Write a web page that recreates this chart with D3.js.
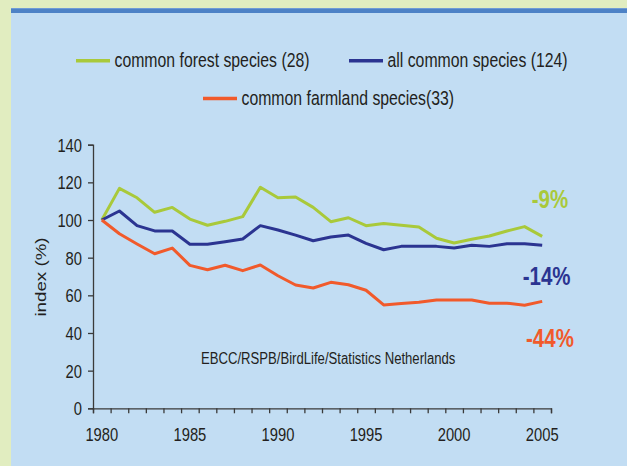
<!DOCTYPE html>
<html>
<head>
<meta charset="utf-8">
<script src="https://cdn.jsdelivr.net/npm/d3@7"></script>
<style>
  body { margin: 0; background: #c2ddf3; }
  svg { display: block; }
  text { font-family: "Liberation Sans", Arial, sans-serif; fill: #231f20; }
</style>
</head>
<body>
<svg id="chart"></svg>
<script>

// Data: index (1980 = 100)
const years = [1980, 1981, 1982, 1983, 1984, 1985, 1986, 1987, 1988, 1989, 1990, 1991, 1992,
               1993, 1994, 1995, 1996, 1997, 1998, 1999, 2000, 2001, 2002, 2003, 2004, 2005];
const forest = [100, 116.8, 111.8, 104.1, 106.7, 100.5, 97.2, 99.3, 101.8, 117.4, 111.8, 112.2, 106.7,
                99.1, 101.2, 97.0, 98.2, 97.2, 96.3, 90.3, 87.8, 89.8, 91.5, 94.2, 96.5, 91.3];
const allCommon = [100, 104.8, 97.0, 94.2, 94.2, 87.1, 87.1, 88.5, 89.9, 97.0, 94.7, 92.0, 89.0,
                   91.0, 92.0, 87.6, 84.2, 86.0, 86.0, 86.0, 85.1, 86.6, 86.0, 87.4, 87.4, 86.6];
const farmland = [100, 92.7, 87.3, 82.1, 85.1, 75.9, 73.6, 76.0, 73.1, 76.1, 70.4, 65.5, 63.9,
                  66.9, 65.6, 62.7, 54.9, 55.6, 56.3, 57.5, 57.5, 57.5, 55.8, 55.8, 54.7, 56.8];

const seriesNames = ["common forest species (28)", "all common species (124)", "common farmland species(33)"];
const changeLabels = ["-9%", "-14%", "-44%"];
const yTicks = [0, 20, 40, 60, 80, 100, 120, 140];
const xLabelYears = [1980, 1985, 1990, 1995, 2000, 2005];
const sourceText = "EBCC/RSPB/BirdLife/Statistics Netherlands";

const colors = ["#a9c93a", "#2b3491", "#f15a2b"];
const seriesData = [forest, allCommon, farmland];

const W = 627, H = 466;
const SX = 0.82; // the original lettering is narrow
const svg = d3.select("#chart").attr("width", W).attr("height", H);

// move x/y of each text into a translate and squeeze it horizontally
function squeeze(sel) {
    sel.each(function() {
        const t = d3.select(this);
        const tx = +t.attr("x") || 0, ty = +t.attr("y") || 0;
        t.attr("x", null).attr("y", null)
         .attr("transform", `translate(${tx},${ty}) scale(${SX},1)`);
    });
}

// frame
svg.append("rect").attr("x", 0).attr("y", 0).attr("width", W).attr("height", H).attr("fill", "#e1edc0");
svg.append("rect").attr("x", 11).attr("y", 8).attr("width", W - 11).attr("height", H - 8).attr("fill", "#c2ddf3");
svg.append("rect").attr("x", 11).attr("y", 8).attr("width", W - 11).attr("height", 5).attr("fill", "#4d82c6");
svg.append("rect").attr("x", 11).attr("y", 8).attr("width", W - 11).attr("height", 1).attr("fill", "#6f9bd6");

// scales
const x = d3.scaleBand().domain(years).range([93, 551]);
const xb = d3.scaleLinear().domain([0, years.length]).range([93, 551]);
const y = d3.scaleLinear().domain([0, 140]).range([408.3, 144.7]);
const cx = d => x(d) + x.bandwidth() / 2;

// axes
const axisColor = "#3a3a3a";
const yAxis = svg.append("g")
    .attr("transform", "translate(93,0)")
    .call(d3.axisLeft(y).tickValues(yTicks).tickSize(5).tickPadding(6));
yAxis.selectAll("text").attr("font-size", 18).attr("dy", "0.36em").style("fill", "#231f20").call(squeeze);

svg.append("g")
    .attr("transform", "translate(0,408.3)")
    .call(d3.axisBottom(xb).tickValues(d3.range(years.length + 1)).tickSize(5).tickFormat(""));

const xLabels = svg.append("g")
    .attr("transform", "translate(0,408.3)")
    .call(d3.axisBottom(x).tickValues(xLabelYears).tickSize(0).tickPadding(20));
xLabels.select(".domain").remove();
xLabels.selectAll("text").attr("font-size", 18).style("fill", "#231f20").call(squeeze);

svg.selectAll(".domain, .tick line").attr("stroke", axisColor).attr("stroke-width", 1.3);

// y title
svg.append("text")
    .attr("transform", "translate(46,277) scale(1,1.25) rotate(-90)")
    .attr("text-anchor", "middle")
    .attr("font-size", 15)
    .text("index (%)");

// lines
const line = d3.line()
    .x((d, i) => cx(years[i]))
    .y(d => y(d));

svg.selectAll("path.series")
    .data(seriesData)
    .join("path")
    .attr("class", "series")
    .attr("fill", "none")
    .attr("stroke", (d, i) => colors[i])
    .attr("stroke-width", 3)
    .attr("stroke-linejoin", "round")
    .attr("d", line);

// legend
const legendPos = [[76, 67.3], [349, 67.3], [203, 105]];
const legend = svg.selectAll("g.legend")
    .data(seriesNames)
    .join("g")
    .attr("class", "legend")
    .attr("transform", (d, i) => `translate(${legendPos[i][0]},${legendPos[i][1]})`);
legend.append("line")
    .attr("x1", 0).attr("x2", 34).attr("y1", -6.6).attr("y2", -6.6)
    .attr("stroke", (d, i) => colors[i])
    .attr("stroke-width", 3.5);
legend.append("text")
    .attr("x", 38.5)
    .attr("font-size", 19.3)
    .text(d => d)
    .call(squeeze);

// change labels
const changePos = [[531.7, 208.3], [522.7, 285], [526, 347.3]];
svg.selectAll("text.change")
    .data(changeLabels)
    .join("text")
    .attr("class", "change")
    .attr("x", (d, i) => changePos[i][0])
    .attr("y", (d, i) => changePos[i][1])
    .attr("font-size", 25)
    .attr("font-weight", "bold")
    .style("fill", (d, i) => colors[i])
    .text(d => d)
    .call(squeeze);

// source
svg.append("text")
    .attr("x", 201)
    .attr("y", 364)
    .attr("font-size", 16)
    .text(sourceText)
    .call(squeeze);

</script>
</body>
</html>
